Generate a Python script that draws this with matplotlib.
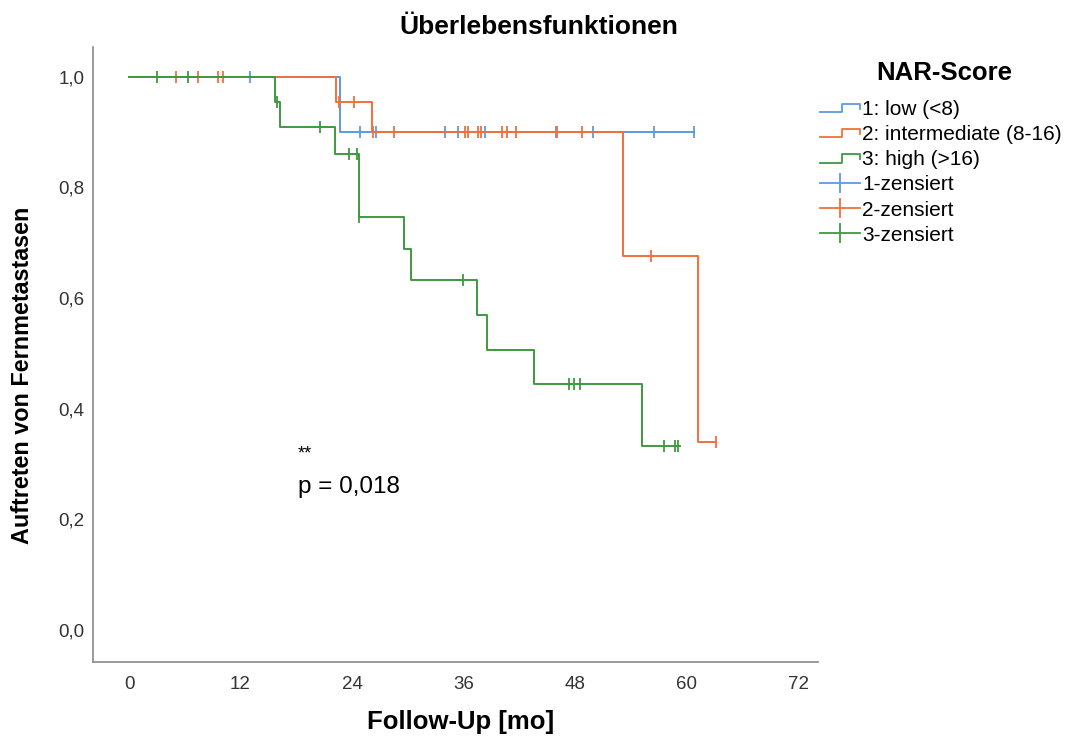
import numpy as np
import matplotlib
matplotlib.use("Agg")
import matplotlib.pyplot as plt
from matplotlib.lines import Line2D
from matplotlib.legend_handler import HandlerBase

plt.rcParams["font.family"] = ["Liberation Sans", "DejaVu Sans"]

# Kaplan-Meier steps (time in months, survival level after the step)
low_times = [0, 22.7]
low_surv = [1.0, 0.90]
low_end = 60.8
low_cens = [13.0, 24.9, 26.6, 34.0, 35.4, 38.3, 45.9, 49.9, 56.5, 60.8]

mid_times = [0, 22.3, 26.1, 53.2, 61.2]
mid_surv = [1.0, 0.955, 0.90, 0.677, 0.339]
mid_end = 63.2
mid_cens = [5.1, 7.4, 9.6, 10.1, 22.6, 24.2, 26.3, 28.5, 36.2, 36.5, 37.6,
            37.9, 40.1, 40.7, 41.7, 46.1, 48.8, 56.2, 63.2]

high_times = [0, 15.7, 16.3, 22.2, 24.8, 29.6, 30.4, 37.4, 38.5, 43.6, 55.2]
high_surv = [1.0, 0.954, 0.909, 0.860, 0.747, 0.689, 0.633, 0.570, 0.506, 0.444, 0.333]
high_end = 59.3
high_cens = [3.0, 6.3, 15.9, 20.6, 23.7, 24.5, 24.8, 35.9, 47.4, 47.9, 48.5,
             57.6, 58.8, 59.1]

labels = ["1: low (<8)", "2: intermediate (8-16)", "3: high (>16)"]
cens_labels = ["1-zensiert", "2-zensiert", "3-zensiert"]
colors = ["#5B9BE3", "#F2703A", "#3E9A40"]

x_ticks = [0, 12, 24, 36, 48, 60, 72]
y_ticks = [0.0, 0.2, 0.4, 0.6, 0.8, 1.0]


class StepHandler(HandlerBase):
    def create_artists(self, legend, orig_handle, xdescent, ydescent,
                       width, height, fontsize, trans):
        xs = np.array([0, 0.55, 0.55, 1.0, 1.0]) * width - xdescent
        ys = np.array([0.2, 0.2, 0.75, 0.75, 0.45]) * height - ydescent
        ln = Line2D(xs, ys, color=orig_handle.get_color(), lw=1.3)
        ln.set_transform(trans)
        return [ln]


fig = plt.figure(figsize=(10.77, 7.38), dpi=100)
ax = fig.add_axes([93 / 1077, 1 - 662 / 738, 725 / 1077, 615 / 738])

groups = [(low_times, low_surv, low_end, low_cens),
          (mid_times, mid_surv, mid_end, mid_cens),
          (high_times, high_surv, high_end, high_cens)]

step_handles = []
cens_handles = []
for (t, s, end, cens), col, lab, clab in zip(groups, colors, labels, cens_labels):
    tt = list(t) + [end]
    ss = list(s) + [s[-1]]
    ax.step(tt, ss, where="post", color=col, lw=1.4)
    idx = np.searchsorted(np.array(t), np.array(cens), side="right") - 1
    cy = np.array(s)[idx]
    ax.plot(cens, cy, linestyle="none", marker="|", markersize=8,
            markeredgewidth=1.3, color=col)
    step_handles.append(Line2D([], [], color=col, label=lab))
    cens_handles.append(Line2D([], [], color=col, lw=1.3, marker="|",
                               markersize=14, markeredgewidth=1.3, label=clab))

ax.set_xlim(-3.875, 74.15)
ax.set_ylim(-0.058, 1.054)
ax.set_xticks(x_ticks)
ax.set_yticks(y_ticks)
ax.set_yticklabels([f"{v:.1f}".replace(".", ",") for v in y_ticks])
ax.tick_params(length=0, labelsize=13.5, colors="#333333")
ax.tick_params(axis="x", pad=10)
ax.tick_params(axis="y", pad=6)
for side in ["top", "right"]:
    ax.spines[side].set_visible(False)
for side in ["left", "bottom"]:
    ax.spines[side].set_color("#8a8a8a")
    ax.spines[side].set_linewidth(1.2)

ax.text(18.2, 0.318, "**", fontsize=13, ha="left", va="center")
ax.text(18.2, 0.258, "p = 0,018", fontsize=17.5, ha="left", va="center")

fig.text(0.5, 1 - 27 / 738, "Überlebensfunktionen", fontsize=19,
         fontweight="bold", ha="center", va="center")
fig.text(461 / 1077, 1 - 722 / 738, "Follow-Up [mo]", fontsize=18.5,
         fontweight="bold", ha="center", va="center")
fig.text(23 / 1077, 1 - 375 / 738, "Auftreten von Fernmetastasen", fontsize=16.8,
         fontweight="bold", ha="center", va="center", rotation=90)
fig.text(944 / 1077, 1 - 73 / 738, "NAR-Score", fontsize=18.5,
         fontweight="bold", ha="center", va="center")

leg = fig.legend(handles=step_handles + cens_handles,
                 handler_map={h: StepHandler() for h in step_handles},
                 loc="upper left",
                 bbox_to_anchor=(812 / 1077, 1 - 92 / 738),
                 frameon=False, fontsize=15, handlelength=1.92,
                 handletextpad=0.1, labelspacing=0.29, borderaxespad=0)

fig.savefig("out.png", dpi=100)
